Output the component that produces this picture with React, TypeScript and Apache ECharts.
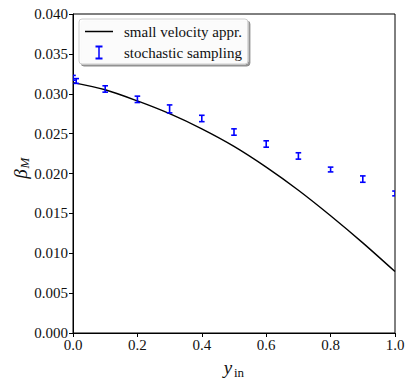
import React, { useEffect, useRef } from "react";
import * as echarts from "echarts";

// Smooth approximation curve
const curveX = [0, 0.1, 0.2, 0.3, 0.4, 0.5, 0.6, 0.7, 0.8, 0.9, 1.0];
const curveY = [0.0314, 0.0305, 0.0291, 0.0275, 0.0256, 0.0234, 0.0208, 0.0179, 0.0147, 0.0113, 0.0077];

// Stochastic sampling points with error bars
const sampX = [0, 0.01, 0.1, 0.2, 0.3, 0.4, 0.5, 0.6, 0.7, 0.8, 0.9, 1.0];
const sampY = [0.032, 0.0316, 0.0306, 0.0293, 0.0281, 0.0269, 0.0252, 0.0237, 0.0222, 0.0205, 0.0193, 0.0175];
const sampErr = [0.0003, 0.0003, 0.0004, 0.0004, 0.0005, 0.0004, 0.0004, 0.0004, 0.0004, 0.0003, 0.0004, 0.0003];

const xTicks = [0, 0.2, 0.4, 0.6, 0.8, 1.0];
const yTicks = [0, 0.005, 0.01, 0.015, 0.02, 0.025, 0.03, 0.035, 0.04];

const LINE_NAME = "small velocity appr.";
const ERR_NAME = "stochastic sampling";
const FONT = "Liberation Serif";

export default function App() {
  const ref = useRef<HTMLDivElement>(null);
  useEffect(() => {
    document.body.style.margin = "0";
    if (!ref.current) return;
    const chart = echarts.init(ref.current, undefined, { renderer: "svg" });
    const blue = "#0000ff";
    chart.setOption({
      animation: false,
      backgroundColor: "#ffffff",
      grid: {
        left: 73,
        right: 18,
        top: 14,
        bottom: 53,
        show: true,
        borderColor: "#000",
        borderWidth: 1,
        backgroundColor: "transparent",
      },
      xAxis: {
        type: "value",
        min: xTicks[0],
        max: xTicks[xTicks.length - 1],
        interval: 0.2,
        splitLine: { show: false },
        axisLine: { show: true, lineStyle: { color: "#000", width: 1 } },
        axisTick: { show: true, inside: false, length: 4, lineStyle: { color: "#000" } },
        axisLabel: {
          margin: 4,
          color: "#111",
          fontFamily: FONT,
          fontSize: 15,
          formatter: (v: number) => v.toFixed(1),
        },
      },
      yAxis: {
        type: "value",
        min: yTicks[0],
        max: yTicks[yTicks.length - 1],
        interval: 0.005,
        splitLine: { show: false },
        axisLine: { show: true, lineStyle: { color: "#000", width: 1 } },
        axisTick: { show: true, inside: false, length: 4, lineStyle: { color: "#000" } },
        axisLabel: {
          margin: 5,
          color: "#111",
          fontFamily: FONT,
          fontSize: 15,
          formatter: (v: number) => v.toFixed(3),
        },
      },
      legend: {
        orient: "vertical",
        left: 79,
        top: 19,
        padding: [5, 6, 4, 6],
        itemWidth: 28,
        itemHeight: 14,
        itemGap: 6,
        backgroundColor: "rgba(255,255,255,0.9)",
        borderColor: "#cccccc",
        borderWidth: 1,
        borderRadius: 3,
        shadowColor: "rgba(0,0,0,0.45)",
        shadowBlur: 0,
        shadowOffsetX: 2,
        shadowOffsetY: 2,
        textStyle: {
          fontFamily: FONT,
          fontSize: 15,
          color: "#111",
          padding: [0, 0, 0, 6],
        },
        data: [
          { name: LINE_NAME, icon: "path://M0,0H28V1.5H0Z" },
          {
            name: ERR_NAME,
            icon: "path://M0,0H7V2H4.25V12H7V14H0V12H2.75V2H0Z",
          },
        ],
      },
      series: [
        {
          name: LINE_NAME,
          type: "line",
          smooth: 0.3,
          showSymbol: false,
          color: "#000",
          itemStyle: { color: "#000" },
          lineStyle: { color: "#000", width: 1.4 },
          data: curveX.map((x, i) => [x, curveY[i]]),
          z: 2,
        },
        {
          name: ERR_NAME,
          type: "custom",
          clip: true,
          itemStyle: { color: blue },
          encode: { x: 0, y: 1 },
          data: sampX.map((x, i) => [x, sampY[i], sampErr[i]]),
          renderItem: (params: any, api: any) => {
            const x = api.value(0);
            const y = api.value(1);
            const e = api.value(2);
            const lo = api.coord([x, y - e]);
            const hi = api.coord([x, y + e]);
            const cap = 2.8;
            const st = { stroke: blue, lineWidth: 1.6 };
            return {
              type: "group",
              children: [
                { type: "line", shape: { x1: lo[0], y1: lo[1], x2: hi[0], y2: hi[1] }, style: st },
                { type: "line", shape: { x1: lo[0] - cap, y1: lo[1], x2: lo[0] + cap, y2: lo[1] }, style: st },
                { type: "line", shape: { x1: hi[0] - cap, y1: hi[1], x2: hi[0] + cap, y2: hi[1] }, style: st },
              ],
            };
          },
          z: 3,
        },
      ],
      graphic: [
        {
          type: "group",
          x: 20,
          y: 170,
          rotation: Math.PI / 2,
          children: [
            {
              type: "text",
              x: -4,
              y: 0,
              style: {
                text: "β",
                font: `italic 19px ${FONT}`,
                fill: "#111",
                textAlign: "center",
                textVerticalAlign: "middle",
              },
            },
            {
              type: "text",
              x: 7,
              y: 4,
              style: {
                text: "M",
                font: `italic 13px ${FONT}`,
                fill: "#111",
                textAlign: "center",
                textVerticalAlign: "middle",
              },
            },
          ],
        },
        {
          type: "text",
          x: 228,
          y: 367,
          style: {
            text: "y",
            font: `italic 19px ${FONT}`,
            fill: "#111",
            textAlign: "center",
            textVerticalAlign: "middle",
          },
        },
        {
          type: "text",
          x: 239,
          y: 372,
          style: {
            text: "in",
            font: `13px ${FONT}`,
            fill: "#111",
            textAlign: "center",
            textVerticalAlign: "middle",
          },
        },
      ],
    });
    return () => chart.dispose();
  }, []);
  return <div ref={ref} style={{ width: 413, height: 386 }} />;
}
